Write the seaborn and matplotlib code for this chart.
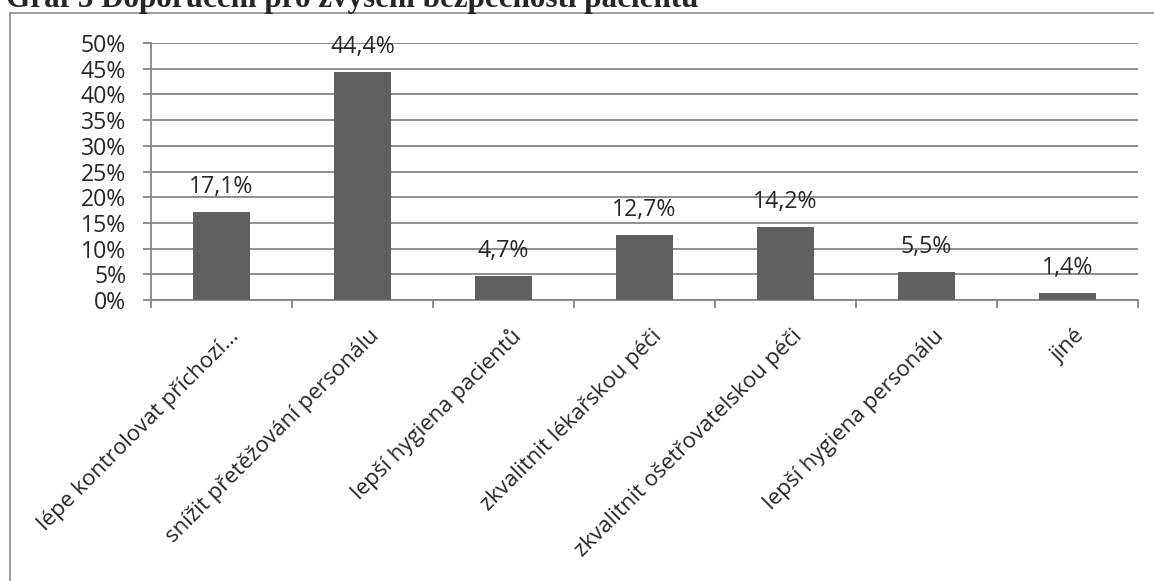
import matplotlib
matplotlib.use("Agg")
import matplotlib.pyplot as plt
import matplotlib.transforms as mtransforms
import seaborn as sns
import pandas as pd
from matplotlib.lines import Line2D

# data
categories = [
    "lépe kontrolovat příchozí…",
    "snížit přetěžování personálu",
    "lepší hygiena pacientů",
    "zkvalitnit lékařskou péči",
    "zkvalitnit ošetřovatelskou péči",
    "lepší hygiena personálu",
    "jiné",
]
values = [17.1, 44.4, 4.7, 12.7, 14.2, 5.5, 1.4]
yticks = [0, 5, 10, 15, 20, 25, 30, 35, 40, 45, 50]

df = pd.DataFrame({"kategorie": categories, "podil": values})

sns.set_style("white")
plt.rcParams["font.family"] = ["Open Sans", "DejaVu Sans"]
FS = 16.6

fig = plt.figure(figsize=(11.54, 5.81), dpi=100)
ax = fig.add_axes([0.1308, 0.4836, 0.8552, 0.4424])

sns.barplot(data=df, x="kategorie", y="podil", color="#606060",
            width=0.4, saturation=1, ax=ax, zorder=3)
for p in ax.patches:
    p.set_edgecolor("none")

ax.set_ylim(0, 50)
ax.set_xlim(-0.5, len(categories) - 0.5)
ax.set_yticks(yticks)
ax.set_yticklabels([f"{t}%" for t in yticks], fontsize=FS)
ax.yaxis.grid(True, color="#868686", linewidth=1.3, zorder=0)
ax.set_axisbelow(True)
ax.set_xlabel("")
ax.set_ylabel("")

for s in ["top", "right"]:
    ax.spines[s].set_visible(False)
for s in ["left", "bottom"]:
    ax.spines[s].set_color("#868686")
    ax.spines[s].set_linewidth(1.3)

ax.tick_params(axis="y", length=5.8, color="#868686", width=1.3, pad=12, left=True)

# category boundary ticks
ax.set_xticks([i - 0.5 for i in range(len(categories) + 1)], minor=True)
ax.tick_params(axis="x", which="minor", length=5.8, color="#868686", width=1.3, bottom=True)
ax.set_xticks(range(len(categories)))
ax.tick_params(axis="x", which="major", length=0, pad=0)
ax.set_xticklabels(categories, rotation=45, ha="right", va="center",
                   rotation_mode="anchor", fontsize=16)
offset = mtransforms.ScaledTranslation(0.14, -0.33, fig.dpi_scale_trans)
for lbl in ax.get_xticklabels():
    lbl.set_transform(lbl.get_transform() + offset)

for i, v in enumerate(values):
    ax.annotate(f"{v:.1f}%".replace(".", ","), (i, v), xytext=(0, 13.7),
                textcoords="offset points", ha="center", va="baseline", fontsize=FS)

# outer frame
fig.add_artist(Line2D([10 / 1154, 10 / 1154], [0, 1 - 13 / 581],
                      transform=fig.transFigure, color="#8c8c8c", linewidth=1.2))
fig.add_artist(Line2D([10 / 1154, 1], [1 - 13 / 581, 1 - 13 / 581],
                      transform=fig.transFigure, color="#8c8c8c", linewidth=1.2))

fig.text(0.005, 1 - 7 / 581, "Graf 5 Doporučení pro zvýšení bezpečnosti pacientů",
         family="Liberation Serif", fontweight="bold", fontsize=22.4, va="baseline")

fig.savefig("out.png", dpi=100)
